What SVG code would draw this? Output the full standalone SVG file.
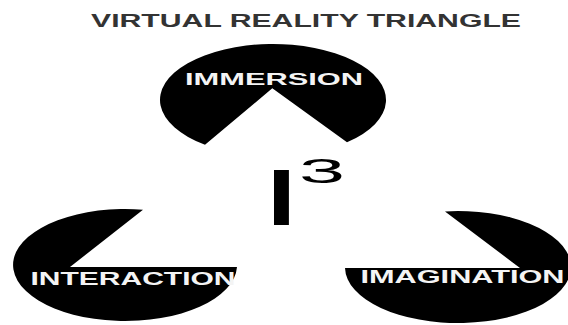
<svg xmlns="http://www.w3.org/2000/svg" width="568" height="325" viewBox="0 0 568 325">
<style>
.shape{fill:#000}
.lbl{fill:#f4f4f4;font-family:"Liberation Sans",Arial,sans-serif;font-weight:bold}
.title{fill:#333;font-family:"Liberation Sans",Arial,sans-serif;font-size:17.5px;font-weight:bold}
.big{fill:#000;font-family:"Liberation Sans",Arial,sans-serif}
</style>
<rect width="568" height="325" fill="#fff"/>
<text id="title" class="title" x="91" y="26.7" textLength="430" lengthAdjust="spacingAndGlyphs">VIRTUAL REALITY TRIANGLE</text>
<g id="immersion">
<path class="shape" d="M272.3 88.3 L205 144.7 A113 56 0 1 1 347 142.3 Z"/>
<text class="lbl" x="185" y="85" font-size="16.5" textLength="178" lengthAdjust="spacingAndGlyphs">IMMERSION</text>
</g>
<g id="interaction">
<path class="shape" d="M70 267 L143 209.7 A112 56 0 1 0 237 267 Z"/>
<text class="lbl" x="30.5" y="285" font-size="18" textLength="205" lengthAdjust="spacingAndGlyphs">INTERACTION</text>
</g>
<g id="imagination">
<path class="shape" d="M520 268 L445 211.4 A113 56 0 1 1 345 268 Z"/>
<text class="lbl" x="360.5" y="282.5" font-size="18.5" textLength="204" lengthAdjust="spacingAndGlyphs">IMAGINATION</text>
</g>
<g id="i-cubed">
<text class="big" transform="translate(259.2 225) scale(2 1)" x="0" y="0" font-size="80">I</text>
<text class="big" transform="translate(299 182.5) scale(2.3 1)" x="0" y="0" font-size="36">3</text>
</g>
</svg>
